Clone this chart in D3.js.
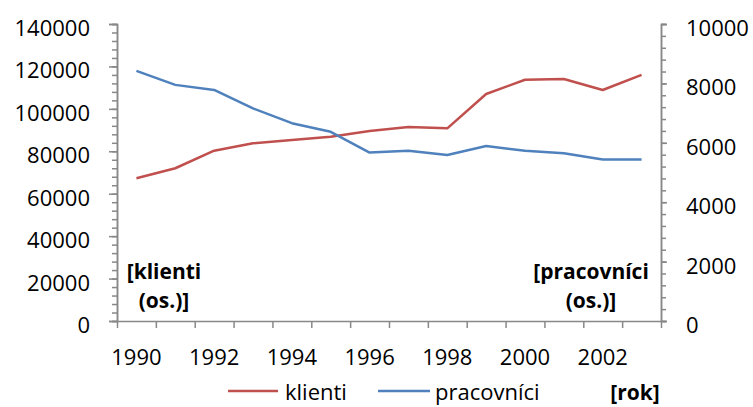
<!DOCTYPE html>
<html>
<head>
<meta charset="utf-8">
<script src="https://cdn.jsdelivr.net/npm/d3@7"></script>
<style>
  html, body { margin: 0; padding: 0; background: #fff; }
  svg { display: block; }
  text { font-family: "Open Sans", sans-serif; fill: #000; }
</style>
</head>
<body>
<svg id="chart" width="753" height="407"></svg>
<script>
const years = [1990,1991,1992,1993,1994,1995,1996,1997,1998,1999,2000,2001,2002,2003];
const klienti = [67300,72000,80300,83800,85300,86900,89600,91400,90800,107000,113700,114100,108900,116000];
const pracovnici = [8420,7950,7780,7160,6660,6370,5670,5730,5590,5890,5730,5650,5440,5440];
const leftTicks = [0,20000,40000,60000,80000,100000,120000,140000];
const rightTicks = [0,2000,4000,6000,8000,10000];
const xTickLabels = [1990,1992,1994,1996,1998,2000,2002];
const seriesNames = ["klienti","pracovníci"];
const colors = ["#C0504D","#4F81BD"];

(function () {
const svg = d3.select("#chart");
const plotLeft = 117, plotRight = 661, plotTop = 24, plotBottom = 321;
const axisColor = "#888888";

const x = d3.scaleBand().domain(years).range([plotLeft, plotRight]).paddingInner(0).paddingOuter(0);
const xEdges = d3.scaleLinear().domain([0, years.length]).range([plotLeft, plotRight]);
const yL = d3.scaleLinear().domain([0, 140000]).range([plotBottom, plotTop]);
const yR = d3.scaleLinear().domain([0, 10000]).range([plotBottom, plotTop]);

function styleAxis(g) {
  g.selectAll(".domain").attr("stroke", axisColor).attr("stroke-width", 1.5);
  g.selectAll(".tick line").attr("stroke", axisColor).attr("stroke-width", 1.5);
  g.selectAll(".tick text").style("font-size", "22px").style("font-family", "'Open Sans', sans-serif").attr("fill", "#000");
}

svg.append("g").attr("transform", `translate(${plotLeft},0)`)
  .call(d3.axisLeft(yL).tickValues(d3.range(0, 140001, 4000)).tickSize(5).tickFormat(""))
  .call(styleAxis);
svg.append("g").attr("transform", `translate(${plotLeft},0)`)
  .call(d3.axisLeft(yL).tickValues(leftTicks).tickSize(8).tickPadding(19).tickFormat(d3.format("d")))
  .call(styleAxis)
  .call(g => g.selectAll(".tick text").attr("dy", "0.52em"));

svg.append("g").attr("transform", `translate(${plotRight},0)`)
  .call(d3.axisRight(yR).tickValues(d3.range(0, 10001, 400)).tickSize(5).tickFormat(""))
  .call(styleAxis);
svg.append("g").attr("transform", `translate(${plotRight},0)`)
  .call(d3.axisRight(yR).tickValues(rightTicks).tickSize(6).tickPadding(19).tickFormat(d3.format("d")))
  .call(styleAxis)
  .call(g => g.selectAll(".tick text").attr("dy", "0.52em"));

svg.append("g").attr("transform", `translate(0,${plotBottom})`)
  .call(d3.axisBottom(xEdges).tickValues(d3.range(0, years.length + 1)).tickSize(7).tickSizeOuter(0).tickFormat(""))
  .call(styleAxis);
svg.append("g").attr("transform", `translate(0,${plotBottom})`)
  .call(d3.axisBottom(x).tickValues(xTickLabels).tickSize(0).tickPadding(28))
  .call(g => g.select(".domain").remove())
  .call(styleAxis);

const lineK = d3.line().x((d, i) => x(years[i]) + x.bandwidth() / 2).y(d => yL(d));
const lineP = d3.line().x((d, i) => x(years[i]) + x.bandwidth() / 2).y(d => yR(d));
svg.append("path").datum(klienti).attr("d", lineK)
  .attr("fill", "none").attr("stroke", colors[0]).attr("stroke-width", 2.5).attr("stroke-linejoin", "round");
svg.append("path").datum(pracovnici).attr("d", lineP)
  .attr("fill", "none").attr("stroke", colors[1]).attr("stroke-width", 2.5).attr("stroke-linejoin", "round");

function boldText(txt, cx, y) {
  return svg.append("text").attr("x", cx).attr("y", y).attr("text-anchor", "middle")
    .style("font-size", "21px").style("font-weight", "bold").text(txt);
}
boldText("[klienti", 164, 279);
boldText("(os.)]", 164, 308);
boldText("[pracovníci", 591, 279);
boldText("(os.)]", 591, 308);
boldText("[rok]", 635, 400);

const legend = [
  { name: seriesNames[0], color: colors[0], x1: 228, x2: 278, tx: 285 },
  { name: seriesNames[1], color: colors[1], x1: 378, x2: 430, tx: 435 }
];
legend.forEach(l => {
  svg.append("line").attr("x1", l.x1).attr("x2", l.x2).attr("y1", 391).attr("y2", 391)
    .attr("stroke", l.color).attr("stroke-width", 2.5);
  svg.append("text").attr("x", l.tx).attr("y", 400).style("font-size", "22px").text(l.name);
});
})();
</script>
</body>
</html>
